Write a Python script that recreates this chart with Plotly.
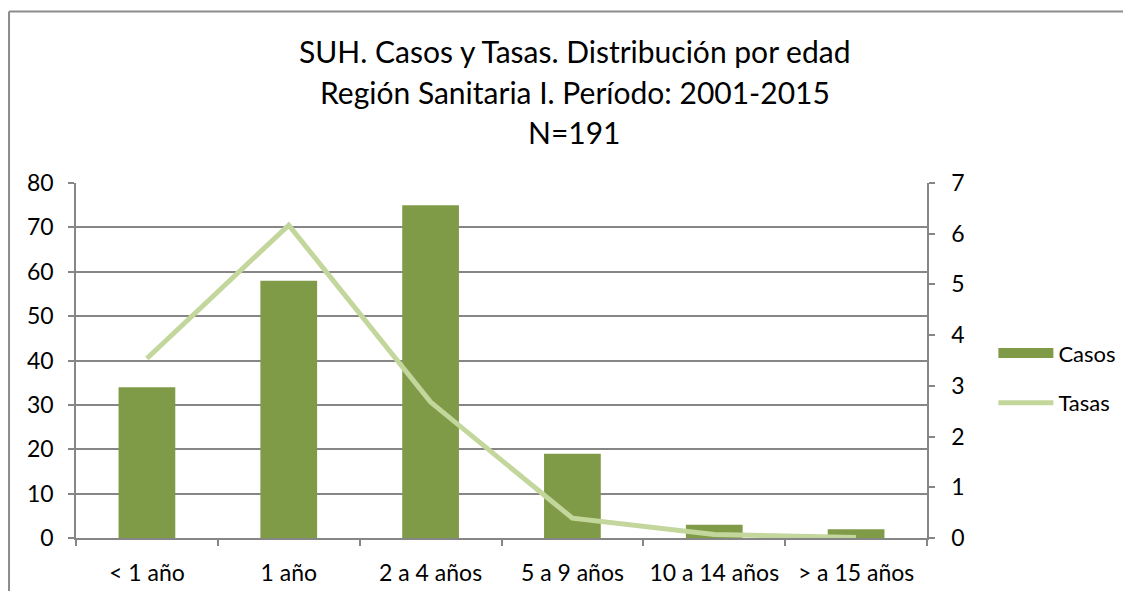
import plotly.graph_objects as go

# data
grupos = ["< 1 año", "1 año", "2 a 4 años", "5 a 9 años", "10 a 14 años", "> a 15 años"]
casos = [34, 58, 75, 19, 3, 2]
tasas = [3.54, 6.17, 2.68, 0.39, 0.07, 0.01]

titulo = ["SUH. Casos y Tasas. Distribución por edad",
          "Región Sanitaria I. Período: 2001-2015",
          "N=191"]

FONT = "Lato, Calibri, Arial, sans-serif"
GRID = "#868686"
VERDE = "#7F9B48"
CLARO = "#C3D69B"

fig = go.Figure()
fig.add_trace(go.Bar(
    x=grupos, y=casos, name="Casos", showlegend=False,
    marker=dict(color=VERDE, line=dict(width=0)),
))
# legend entry drawn as a wide block, like the original
fig.add_trace(go.Scatter(
    x=[None], y=[None], name="Casos", mode="lines",
    line=dict(color=VERDE, width=14), legendgroup="a",
))
fig.add_trace(go.Scatter(
    x=grupos, y=tasas, name="Tasas", mode="lines",
    line=dict(color=CLARO, width=5),
    yaxis="y2", legendgroup="b",
))

# page body adds 8px around, so the figure is kept smaller to avoid scrollbars
fig.update_layout(
    width=1115, height=583,
    margin=dict(l=68, r=196, t=175, b=53, autoexpand=False),
    paper_bgcolor="white", plot_bgcolor="white",
    font=dict(family=FONT, size=23, color="#000000"),
    bargap=0.6,
    showlegend=True,
    legend=dict(x=1.078, y=0.45, xanchor="left", yanchor="middle",
                font=dict(size=22), tracegroupgap=18, itemwidth=55),
    xaxis=dict(
        showline=True, linecolor=GRID, linewidth=1.5,
        ticks="outside", tickcolor=GRID, ticklen=6, tickwidth=1.5,
        tickson="boundaries", showgrid=False, ticklabelstandoff=14,
        automargin=False,
    ),
    yaxis=dict(
        range=[0, 80], dtick=10,
        showline=True, linecolor=GRID, linewidth=1.5,
        ticks="outside", tickcolor=GRID, ticklen=6, tickwidth=1.5,
        showgrid=True, gridcolor=GRID, gridwidth=1.5, zeroline=False,
        ticklabelstandoff=10, automargin=False,
    ),
    yaxis2=dict(
        range=[0, 7], dtick=1, overlaying="y", side="right",
        showline=True, linecolor=GRID, linewidth=1.5,
        ticks="outside", tickcolor=GRID, ticklen=6, tickwidth=1.5,
        showgrid=False, zeroline=False, ticklabelstandoff=12,
        automargin=False,
    ),
)

# title lines, spaced like the original
for txt, yy in zip(titulo, [1.372, 1.256, 1.143]):
    fig.add_annotation(text=txt, x=0.586, y=yy, xref="paper", yref="paper",
                       showarrow=False, font=dict(size=30),
                       xanchor="center", yanchor="middle")

# chart frame (top and left edges visible)
fig.add_shape(type="line", xref="paper", yref="paper",
              x0=-0.0787, x1=1.25, y0=1.483, y1=1.483,
              line=dict(color="#8C8C8C", width=2))
fig.add_shape(type="line", xref="paper", yref="paper",
              x0=-0.0787, x1=-0.0787, y0=1.483, y1=-0.2,
              line=dict(color="#8C8C8C", width=2))

fig.write_html("out.html")
